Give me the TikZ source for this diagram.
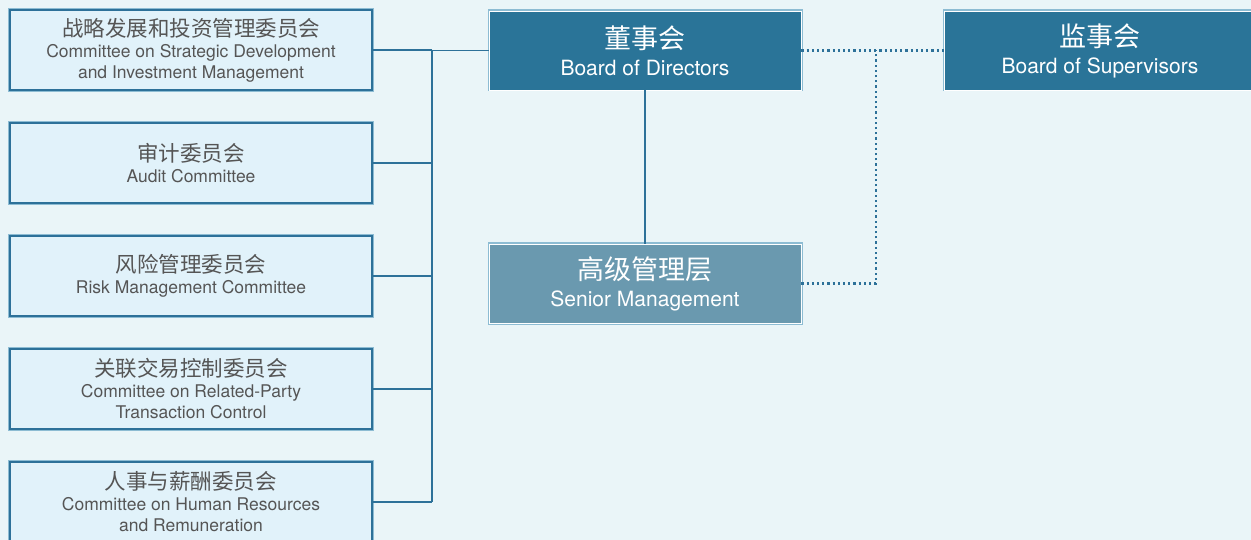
\documentclass[tikz,border=0pt]{standalone}
\usepackage{fontspec}
\setmainfont{TeX Gyre Heros}
\newfontfamily\cjk{Noto Sans CJK SC}

\definecolor{bgblue}{HTML}{EAF5F8}
\definecolor{paleblue}{HTML}{E1F2FA}
\definecolor{linkblue}{HTML}{2D7199}
\definecolor{frameblue}{HTML}{8DBCD3}
\definecolor{boardblue}{HTML}{2A7498}
\definecolor{mgmtblue}{HTML}{6A99AF}
\definecolor{textgray}{HTML}{555555}

\tikzset{
  committee/.style={preaction={draw=frameblue,line width=4pt}, draw=linkblue, line width=1.5pt,
    fill=paleblue, minimum width=362, minimum height=80, inner sep=0pt,
    align=center, text=textgray, font=\fontsize{17.5}{21}\selectfont},
  board/.style={preaction={draw=frameblue,line width=3pt}, draw=white, line width=0.8pt,
    fill=boardblue, minimum width=312, minimum height=79, inner sep=0pt,
    align=center, text=white, font=\fontsize{21}{27}\selectfont},
  link/.style={draw=linkblue, line width=1.2pt},
  dots/.style={draw=linkblue, line width=2.4pt, dash pattern=on 2.2pt off 3pt}
}
\newcommand{\zhsmall}[1]{{\cjk\fontsize{21.5}{22}\selectfont #1}}
\newcommand{\zhbig}[1]{{\cjk\fontsize{27}{27}\selectfont #1}}

\begin{document}
\begin{tikzpicture}[x=1pt,y=-1pt]

%background
\fill[bgblue] (0,0) rectangle (1251,540);
\useasboundingbox (0,0) rectangle (1251,540);

%committees
\node[committee] (strategy) at (191,50) {\zhsmall{战略发展和投资管理委员会}\\Committee on Strategic Development\\and Investment Management};
\node[committee] (audit) at (191,163) {\zhsmall{审计委员会}\\Audit Committee};
\node[committee] (risk) at (191,276) {\zhsmall{风险管理委员会}\\Risk Management Committee};
\node[committee] (related) at (191,389) {\zhsmall{关联交易控制委员会}\\Committee on Related-Party\\Transaction Control};
\node[committee] (human) at (191,502) {\zhsmall{人事与薪酬委员会}\\Committee on Human Resources\\and Remuneration};

%boards
\node[board] (directors) at (645,50.5) {\zhbig{董事会}\\Board of Directors};
\node[board] (supervisors) at (1100,50.5) {\zhbig{监事会}\\Board of Supervisors};
\node[board,fill=mgmtblue] (senior) at (645,283.5) {\zhbig{高级管理层}\\Senior Management};

%bus committees->board
\coordinate (bus) at (432,0);
\foreach \c in {strategy,audit,risk,related,human}
  \draw[link] (\c.east) -- (\c.east -| bus);
\draw[link] (strategy.east -| bus) -- (human.east -| bus);
\draw[link] (bus |- directors.west) -- (directors.west);
%board->senior management
\draw[link] (directors.south) -- (senior.north);

%supervision
\coordinate (watch) at (876,0);
\draw[dots] (directors.east) -- (supervisors.west);
\draw[dots] (senior.east) -| (watch |- supervisors.west);

\end{tikzpicture}
\end{document}
